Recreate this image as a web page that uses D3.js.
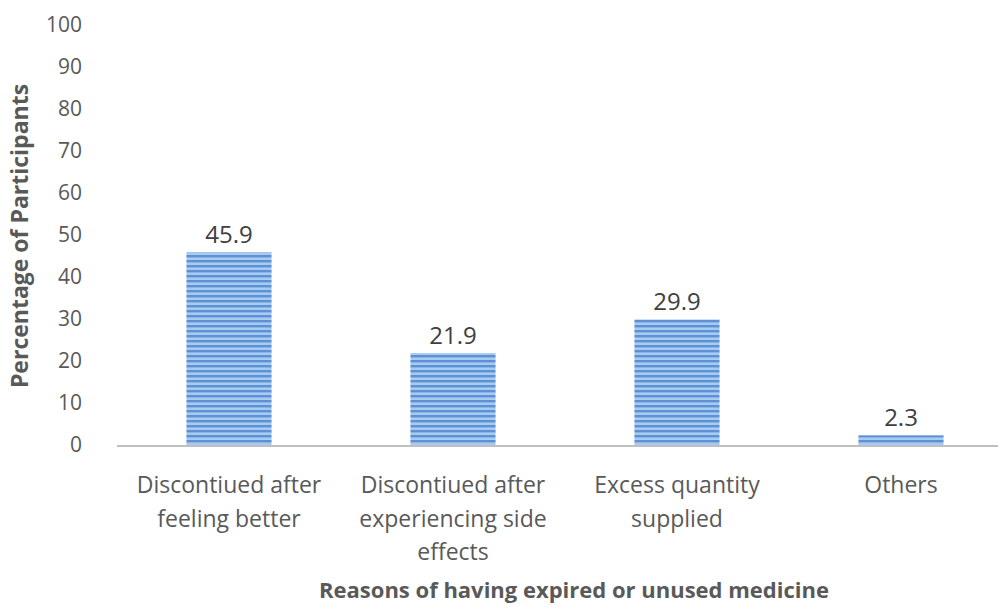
<!DOCTYPE html>
<html>
<head>
<meta charset="utf-8">
<script src="https://cdn.jsdelivr.net/npm/d3@7/dist/d3.min.js"></script>
<style>
  html, body { margin: 0; padding: 0; background: #fff; }
  svg { display: block; font-family: "Open Sans", "Noto Sans", sans-serif; }
</style>
</head>
<body>
<svg id="chart" width="998" height="607"></svg>
<script>
// Reasons for keeping expired or unused medicine (% of participants)
const categories = [
  ["Discontiued after", "feeling better"],
  ["Discontiued after", "experiencing side", "effects"],
  ["Excess quantity", "supplied"],
  ["Others"]
];
const values = [45.9, 21.9, 29.9, 2.3];
const yTicks = [0, 10, 20, 30, 40, 50, 60, 70, 80, 90, 100];
const yTitle = "Percentage of Participants";
const xTitle = "Reasons of having expired or unused medicine";

const svg = d3.select("#chart");
const W = 998, H = 607;
const plotLeft = 117, plotRight = 1013, plotTop = 25, plotBottom = 445;

const x = d3.scaleBand()
  .domain(d3.range(values.length))
  .range([plotLeft, plotRight])
  .paddingInner(0.62)
  .paddingOuter(0.31);
const y = d3.scaleLinear().domain([0, 100]).range([plotBottom, plotTop]);

// horizontal stripe fill for the bars
const defs = svg.append("defs");
const pat = defs.append("pattern")
  .attr("id", "stripes")
  .attr("patternUnits", "userSpaceOnUse")
  .attr("width", 10).attr("height", 5)
  .attr("y", plotBottom);
pat.append("rect").attr("width", 10).attr("height", 5).attr("fill", "#a8cbf2");
pat.append("rect").attr("width", 10).attr("height", 2.4).attr("fill", "#5e90d4");

// y axis tick labels
const yAxis = d3.axisLeft(y).tickValues(yTicks).tickSize(0).tickPadding(0);
const gy = svg.append("g").attr("transform", `translate(${82},0)`).call(yAxis);
gy.select(".domain").remove();
gy.selectAll("text")
  .attr("fill", "#595959")
  .style("font-size", "21px")
  .style("font-family", "'Open Sans', sans-serif");

// bars
svg.append("g").selectAll("rect")
  .data(values)
  .join("rect")
  .attr("x", (d, i) => x(i))
  .attr("width", x.bandwidth())
  .attr("y", d => y(d))
  .attr("height", d => y(0) - y(d))
  .attr("fill", "url(#stripes)");

// baseline
svg.append("line")
  .attr("x1", plotLeft).attr("x2", W)
  .attr("y1", y(0) + 1).attr("y2", y(0) + 1)
  .attr("stroke", "#bfbfbf").attr("stroke-width", 2);

// value labels
svg.append("g").selectAll("text")
  .data(values)
  .join("text")
  .attr("x", (d, i) => x(i) + x.bandwidth() / 2)
  .attr("y", d => y(d) - 9)
  .attr("text-anchor", "middle")
  .attr("fill", "#404040")
  .style("font-size", "24px")
  .text(d => d.toFixed(1));

// category labels
const catG = svg.append("g").selectAll("text")
  .data(categories)
  .join("text")
  .attr("text-anchor", "middle")
  .attr("fill", "#595959")
  .style("font-size", "23px");
catG.selectAll("tspan")
  .data((d, i) => d.map((line, j) => ({ line, j, i })))
  .join("tspan")
  .attr("x", d => x(d.i) + x.bandwidth() / 2)
  .attr("y", d => 493 + d.j * 33.5)
  .text(d => d.line);

// axis titles
svg.append("text")
  .attr("transform", `translate(28,${236}) rotate(-90)`)
  .attr("text-anchor", "middle")
  .attr("fill", "#595959")
  .style("font-size", "23px")
  .style("font-weight", "bold")
  .text(yTitle);

svg.append("text")
  .attr("x", 574).attr("y", 598)
  .attr("text-anchor", "middle")
  .attr("fill", "#595959")
  .style("font-size", "22px")
  .style("font-weight", "bold")
  .text(xTitle);
</script>
</body>
</html>
